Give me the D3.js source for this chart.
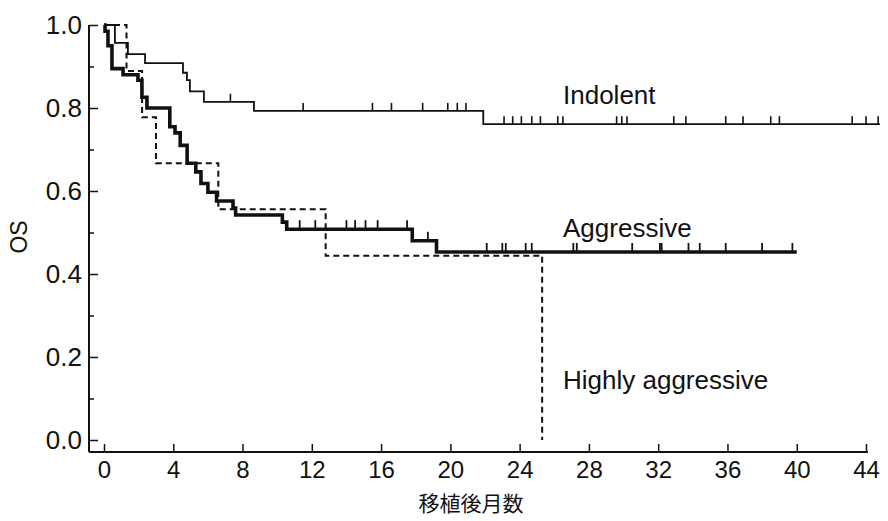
<!DOCTYPE html>
<html>
<head>
<meta charset="utf-8">
<script src="https://cdn.jsdelivr.net/npm/d3@7"></script>
<style>
  body { margin: 0; background: #fff; }
  text { font-family: "Liberation Sans", Arial, sans-serif; fill: #111; }
</style>
</head>
<body>
<div id="chart"></div>
<script>
// Kaplan-Meier steps: [month, survival]
const indolentSteps = [[0, 1], [0.63, 0.957], [1.38, 0.93], [2.37, 0.908], [4.56, 0.885], [4.79, 0.867],
    [4.96, 0.84], [5.77, 0.815], [8.66, 0.793], [21.9, 0.761]];
const indolentEnd = 44.8;
const indolentCensored = [7.3, 11.5, 15.5, 16.6, 18.4, 19.85, 20.4, 20.9, 23.1, 23.6, 24.1, 24.7, 25.2,
    26.2, 26.5, 29.6, 29.9, 30.2, 32.9, 33.6, 35.9, 36.9, 38.5, 39.0, 43.2, 44.0, 44.7];

const aggressiveSteps = [[0, 1], [0.06, 0.985], [0.23, 0.95], [0.46, 0.895], [1.1, 0.88], [1.96, 0.867],
    [2.19, 0.826], [2.48, 0.8], [3.8, 0.755], [4.1, 0.74], [4.4, 0.71], [4.8, 0.667], [5.3, 0.646],
    [5.6, 0.618], [6.0, 0.597], [6.5, 0.576], [7.45, 0.559], [7.6, 0.542], [10.3, 0.525], [10.55, 0.508],
    [17.8, 0.48], [19.2, 0.453]];
const aggressiveEnd = 40.0;
const aggressiveCensored = [11.3, 12.2, 14.0, 14.5, 15.1, 15.8, 17.5, 18.7, 22.1, 23.0, 23.2, 24.35, 24.7,
    27.1, 27.3, 30.5, 32.1, 32.2, 33.75, 34.4, 35.9, 38.0, 39.75];

const highlySteps = [[0, 1], [1.3, 0.889], [2.2, 0.778], [3.0, 0.667], [6.6, 0.556], [12.8, 0.444], [25.3, 0]];
const highlyEnd = 25.3;

const xTicks = [0, 4, 8, 12, 16, 20, 24, 28, 32, 36, 40, 44];
const yTicks = [0, 0.2, 0.4, 0.6, 0.8, 1.0];
const yMinorTicks = [0.1, 0.3, 0.5, 0.7, 0.9];

const width = 888, height = 521;
const svg = d3.select("#chart").append("svg")
    .attr("width", width)
    .attr("height", height);

const x = d3.scaleLinear().domain([0, 44]).range([104, 866]);
const y = d3.scaleLinear().domain([0, 1]).range([440, 25]);
const axisLeftX = 89, axisBottomY = 452;

// axis lines
svg.append("line")
    .attr("x1", axisLeftX).attr("x2", axisLeftX)
    .attr("y1", y(1)).attr("y2", axisBottomY)
    .attr("stroke", "#111").attr("stroke-width", 2);
svg.append("line")
    .attr("x1", axisLeftX).attr("x2", x(44) + 2)
    .attr("y1", axisBottomY).attr("y2", axisBottomY)
    .attr("stroke", "#111").attr("stroke-width", 2);

// y axis (ticks point inward)
const yAxis = svg.append("g")
    .attr("transform", "translate(" + axisLeftX + ",0)")
    .call(d3.axisLeft(y).tickValues(yTicks).tickFormat(d3.format(".1f")).tickSize(-9).tickPadding(7));
yAxis.select(".domain").remove();
yAxis.selectAll(".tick line").attr("stroke", "#111").attr("stroke-width", 1.5);
yAxis.selectAll(".tick text").style("font-size", "26px").attr("fill", "#111");

svg.append("g")
    .attr("transform", "translate(" + axisLeftX + ",0)")
    .call(d3.axisLeft(y).tickValues(yMinorTicks).tickFormat("").tickSize(-5))
    .call(g => g.select(".domain").remove())
    .selectAll(".tick line").attr("stroke", "#111").attr("stroke-width", 1.5);

// x axis (ticks point inward)
const xAxis = svg.append("g")
    .attr("transform", "translate(0," + axisBottomY + ")")
    .call(d3.axisBottom(x).tickValues(xTicks).tickSize(-8).tickPadding(9));
xAxis.select(".domain").remove();
xAxis.selectAll(".tick line").attr("stroke", "#111").attr("stroke-width", 1.5);
xAxis.selectAll(".tick text").style("font-size", "24px").attr("fill", "#111");

// axis titles
svg.append("text")
    .attr("x", 471)
    .attr("y", 511)
    .attr("text-anchor", "middle")
    .style("font-family", "'Noto Sans CJK JP', sans-serif")
    .style("font-size", "21px")
    .text("移植後月数");

svg.append("text")
    .attr("transform", "translate(27,237) rotate(-90)")
    .attr("text-anchor", "middle")
    .style("font-size", "23px")
    .text("OS");

// step path builder
function stepLine(steps, end) {
    const pts = steps.slice();
    pts.push([end, steps[steps.length - 1][1]]);
    return d3.line()
        .x(d => x(d[0]))
        .y(d => y(d[1]))
        .curve(d3.curveStepAfter)(pts);
}

// Indolent
svg.append("path")
    .attr("d", stepLine(indolentSteps, indolentEnd))
    .attr("fill", "none").attr("stroke", "#111").attr("stroke-width", 1.8);

// Aggressive
svg.append("path")
    .attr("d", stepLine(aggressiveSteps, aggressiveEnd))
    .attr("fill", "none").attr("stroke", "#111").attr("stroke-width", 3.6);

// Highly aggressive
svg.append("path")
    .attr("d", stepLine(highlySteps, highlyEnd))
    .attr("fill", "none").attr("stroke", "#111").attr("stroke-width", 2)
    .attr("stroke-dasharray", "6,4");

// censor marks
function survivalAt(steps, t) {
    let s = steps[0][1];
    steps.forEach(d => { if (d[0] <= t) s = d[1]; });
    return s;
}

svg.append("g").selectAll("line")
    .data(indolentCensored)
    .enter().append("line")
    .attr("x1", d => x(d)).attr("x2", d => x(d))
    .attr("y1", d => y(survivalAt(indolentSteps, d)))
    .attr("y2", d => y(survivalAt(indolentSteps, d)) - 8)
    .attr("stroke", "#111").attr("stroke-width", 1.6);

svg.append("g").selectAll("line")
    .data(aggressiveCensored)
    .enter().append("line")
    .attr("x1", d => x(d)).attr("x2", d => x(d))
    .attr("y1", d => y(survivalAt(aggressiveSteps, d)))
    .attr("y2", d => y(survivalAt(aggressiveSteps, d)) - 9)
    .attr("stroke", "#111").attr("stroke-width", 1.8);

// curve labels
svg.append("text").attr("x", 563).attr("y", 104).style("font-size", "26px").text("Indolent");
svg.append("text").attr("x", 563).attr("y", 237).style("font-size", "26px").text("Aggressive");
svg.append("text").attr("x", 563).attr("y", 389).style("font-size", "26px").text("Highly aggressive");
</script>
</body>
</html>
